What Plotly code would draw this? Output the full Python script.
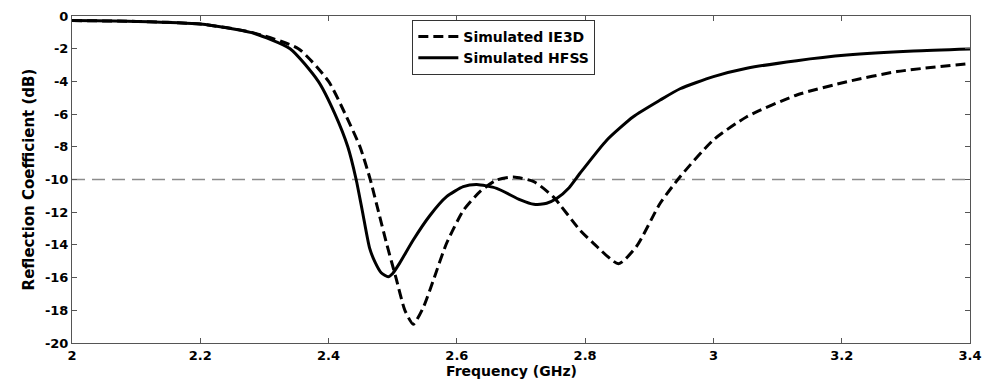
import plotly.graph_objects as go

# Simulated HFSS (solid)
hfss_f = [2.0, 2.1, 2.2, 2.28, 2.34, 2.384, 2.41, 2.43, 2.443, 2.453, 2.464, 2.473,
          2.482, 2.493, 2.50, 2.511, 2.532, 2.558, 2.584, 2.61, 2.631, 2.662, 2.699, 2.72,
          2.74, 2.756, 2.775, 2.792, 2.834, 2.875, 2.917, 2.948, 3.0, 3.052, 3.13, 3.208,
          3.312, 3.4]
hfss_db = [-0.28, -0.33, -0.49, -1.02, -2.0, -4.0, -6.0, -8.0, -10.0, -12.0, -14.2, -15.1,
           -15.7, -15.95, -15.75, -15.1, -13.7, -12.2, -11.05, -10.44, -10.3, -10.54, -11.25, -11.52,
           -11.45, -11.15, -10.5, -9.62, -7.58, -6.16, -5.14, -4.45, -3.71, -3.2, -2.73, -2.39,
           -2.14, -2.02]

# Simulated IE3D (dashed)
ie3d_f = [2.0, 2.1, 2.2, 2.28, 2.353, 2.40, 2.426, 2.449, 2.465, 2.478, 2.491, 2.505, 2.519,
          2.532, 2.548, 2.563, 2.584, 2.61, 2.636, 2.662, 2.688, 2.72, 2.75, 2.792, 2.813,
          2.852, 2.88, 2.917, 2.948, 3.0, 3.052, 3.13, 3.208, 3.286, 3.4]
ie3d_db = [-0.28, -0.33, -0.49, -1.0, -2.0, -4.0, -6.0, -8.0, -10.0, -12.0, -14.0, -16.0, -18.0,
           -18.85, -17.8, -16.2, -13.9, -11.9, -10.74, -10.03, -9.85, -10.13, -11.05, -13.1, -13.9,
           -15.15, -14.1, -11.45, -9.83, -7.58, -6.16, -4.83, -4.02, -3.4, -2.9]

ref_level = -10

x_ticks = [2, 2.2, 2.4, 2.6, 2.8, 3, 3.2, 3.4]
x_tick_text = ["2", "2.2", "2.4", "2.6", "2.8", "3", "3.2", "3.4"]
y_ticks = [0, -2, -4, -6, -8, -10, -12, -14, -16, -18, -20]
y_tick_text = ["0", "-2", "-4", "-6", "-8", "-10", "-12", "-14", "-16", "-18", "-20"]

FONT = "DejaVu Sans"

fig = go.Figure()
fig.add_trace(go.Scatter(x=ie3d_f, y=ie3d_db, mode="lines", name="Simulated IE3D",
                         line=dict(color="black", width=3, dash="10px,5px", shape="spline", smoothing=0.6)))
fig.add_trace(go.Scatter(x=hfss_f, y=hfss_db, mode="lines", name="Simulated HFSS",
                         line=dict(color="black", width=3, shape="spline", smoothing=0.6)))

fig.add_shape(type="line", xref="paper", x0=0, x1=1, yref="y", y0=ref_level, y1=ref_level,
              line=dict(color="#8c8c8c", width=1.5, dash="13px,7px"), layer="below")

fig.add_annotation(text="Frequency (GHz)", xref="paper", yref="paper", x=0.489, y=-0.114,
                   xanchor="center", yanchor="bottom", showarrow=False, borderpad=0,
                   font=dict(family=FONT, size=14, color="black", weight="bold"))

axis_common = dict(showline=True, linecolor="#555555", linewidth=1, mirror="ticks",
                   ticks="inside", ticklen=5, tickcolor="#555555", showgrid=False, zeroline=False,
                   automargin=False,
                   tickfont=dict(family=FONT, size=13, color="black", weight="bold"))

fig.update_layout(
    width=987, height=379,
    margin=dict(l=72, r=17, t=16, b=36),
    paper_bgcolor="white", plot_bgcolor="white",
    showlegend=True,
    legend=dict(x=0.379, y=0.988, xanchor="left", yanchor="top",
                bordercolor="#333333", borderwidth=1, bgcolor="white",
                font=dict(family=FONT, size=14, color="black", weight="bold"),
                tracegroupgap=0, itemwidth=40),
    xaxis=dict(range=[2, 3.4], tickvals=x_ticks, ticktext=x_tick_text, **axis_common),
    yaxis=dict(range=[-20, 0], tickvals=y_ticks, ticktext=y_tick_text,
               title=dict(text="Reflection Coefficient (dB)", standoff=6,
                          font=dict(family=FONT, size=15, color="black", weight="bold")),
               **axis_common),
)

fig.write_html("out.html")
